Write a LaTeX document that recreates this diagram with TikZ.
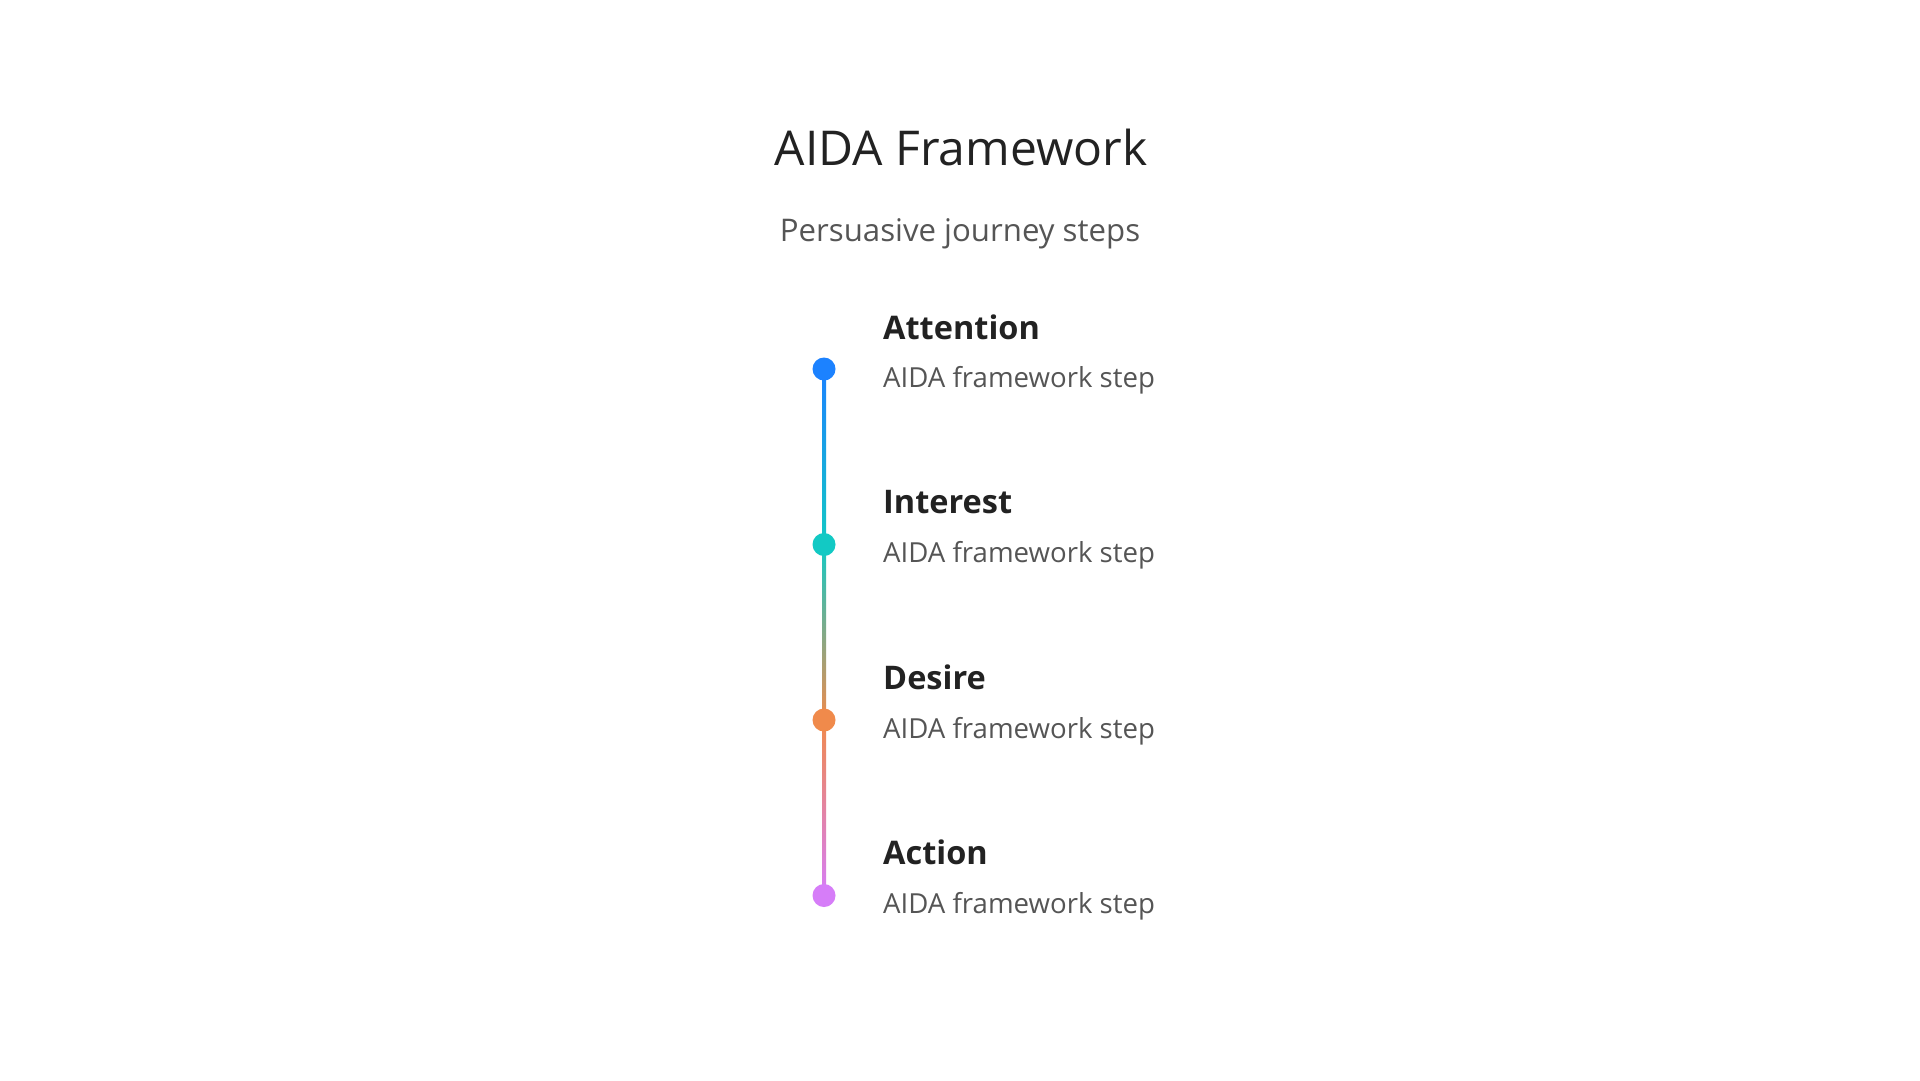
\documentclass[tikz,border=0pt]{standalone}
\usepackage{fontspec}
\setmainfont{Open Sans}
\usepackage{tikz}
\usetikzlibrary{backgrounds}
\definecolor{cblue}{HTML}{1C82FF}
\definecolor{cteal}{HTML}{12C9C4}
\definecolor{corange}{HTML}{F08A4B}
\definecolor{cviolet}{HTML}{D67DF8}
\definecolor{ink}{HTML}{222222}
\definecolor{soft}{HTML}{555555}
\tikzset{dot/.style = {circle, inner sep = 0, minimum size = 23},
  steptitle/.style = {anchor = base west, inner sep = 0, text = ink, font = \fontsize{32.5}{39}\selectfont\bfseries},
  stepnote/.style = {anchor = base west, inner sep = 0, text = soft, font = \fontsize{27.6}{33}\selectfont}}

\begin{document}
\begin{tikzpicture}[x=1pt, y=-1pt]
    \useasboundingbox (0, 0) rectangle (1920, 1080);
    \node (title) at (961, 165) [anchor = base, inner sep = 0, text = ink, font = \fontsize{48}{56}\selectfont] {AIDA Framework};
    \node (subtitle) at (960, 241) [anchor = base, inner sep = 0, text = soft, font = \fontsize{31.2}{37}\selectfont] {Persuasive journey steps};
    % the four steps
    \node (attdot) at (824, 369) [dot, fill = cblue] {};
    \node (intdot) at (824, 544.5) [dot, fill = cteal] {};
    \node (desdot) at (824, 720) [dot, fill = corange] {};
    \node (actdot) at (824, 895.5) [dot, fill = cviolet] {};
    \node (atttitle) at (883, 339) [steptitle] {Attention};
    \node (attnote) at (883, 387) [stepnote] {AIDA framework step};
    \node (inttitle) at (883, 513) [steptitle] {Interest};
    \node (intnote) at (883, 562.5) [stepnote] {AIDA framework step};
    \node (destitle) at (883, 689) [steptitle] {Desire};
    \node (desnote) at (883, 738) [stepnote] {AIDA framework step};
    \node (acttitle) at (883, 864.5) [steptitle] {Action};
    \node (actnote) at (883, 913.5) [stepnote] {AIDA framework step};
    \begin{scope}[on background layer]
      \fill [white] (0, 0) rectangle (1920, 1080);
      \shade [top color = cblue, bottom color = cteal] ([xshift = -2]attdot.center) rectangle ([xshift = 2]intdot.center);
      \shade [top color = cteal, bottom color = corange] ([xshift = -2]intdot.center) rectangle ([xshift = 2]desdot.center);
      \shade [top color = corange, bottom color = cviolet] ([xshift = -2]desdot.center) rectangle ([xshift = 2]actdot.center);
    \end{scope}
  \end{tikzpicture}
\end{document}
